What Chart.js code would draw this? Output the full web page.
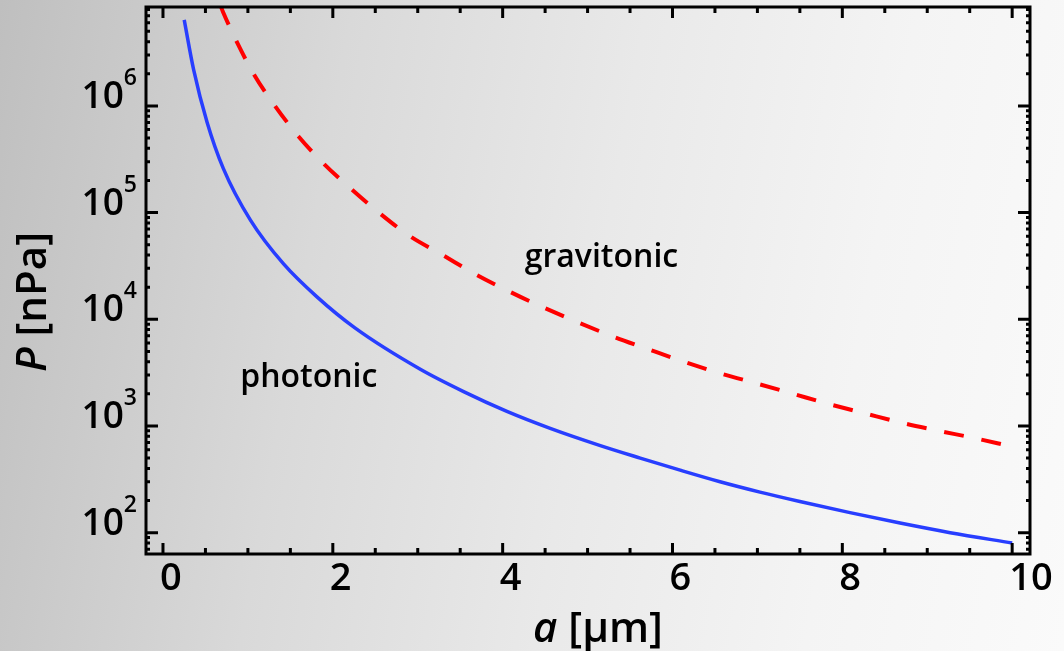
<!DOCTYPE html>
<html>
<head>
<meta charset="utf-8">
<script src="https://cdn.jsdelivr.net/npm/chart.js@4.4.0/dist/chart.umd.min.js"></script>
<style>
  html, body {
    margin: 0;
    padding: 0;
    width: 1064px;
    height: 651px;
    overflow: hidden;
    background: linear-gradient(100deg, #bfbfbf 0%, #d9d9d9 30%, #e9e9e9 55%, #f4f4f4 78%, #fafafa 100%);
  }
  canvas { display: block; }
</style>
</head>
<body>
<canvas id="chart" width="1064" height="651"></canvas>
<script>
// Photonic pressure (solid blue)
const photonicA = [0.25, 0.36, 0.52, 0.71, 1.03, 1.42, 1.81, 2.26, 3.03, 3.54, 4.05, 4.56, 5.15, 5.62, 6.09, 6.56, 7.03, 7.5, 8.09, 8.68, 9.27, 10.0];
const photonicP = [6.4e6, 2.2e6, 7.0e5, 2.6e5, 8.5e4, 3.3e4, 1.63e4, 8.3e3, 3.4e3, 2.1e3, 1.37e3, 950, 655, 500, 385, 300, 240, 196, 154, 123, 100, 80];

// Gravitonic pressure (dashed red)
const gravitonicA = [0.68, 0.707, 0.868, 1.075, 1.319, 1.594, 1.888, 2.223, 2.556, 2.909, 3.294, 3.675, 4.067, 4.479, 5.304, 5.716, 6.137, 6.56, 6.985, 7.405, 7.836, 8.27, 8.701, 9.13, 9.564, 9.956];
const gravitonicP = [8.6e6, 7.6e6, 4.0e6, 1.95e6, 1.0e6, 5.2e5, 2.9e5, 1.65e5, 9.8e4, 6.0e4, 4.0e4, 2.66e4, 1.84e4, 1.29e4, 6.87e3, 5.24e3, 4.0e3, 3.12e3, 2.51e3, 2.02e3, 1.61e3, 1.31e3, 1.07e3, 903, 767, 653];

// Axis ticks
const xMajorTicks = [0, 2, 4, 6, 8, 10];
const xMinorTicks = [0.5, 1, 1.5, 2.5, 3, 3.5, 4.5, 5, 5.5, 6.5, 7, 7.5, 8.5, 9, 9.5];
const yMajorExponents = [2, 3, 4, 5, 6];
const yMinorTicks = [];
for (let e = 1; e <= 6; e++) {
  for (let m = 2; m <= 9; m++) yMinorTicks.push(m * Math.pow(10, e));
}

// Curve labels (data coordinates)
const curveLabels = ['gravitonic', 'photonic'];
const curveLabelA = [4.26, 0.91];
const curveLabelP = [3.1e4, 2.33e3];

const toPoints = (xs, ys) => xs.map((x, i) => ({ x, y: ys[i] }));

const FONT = "'Open Sans', 'Noto Sans', sans-serif";
const W = 600;

// Frame, inward ticks, tick labels and axis titles
const framePlugin = {
  id: 'frame',
  afterDraw(chart) {
    const { ctx, chartArea: area, scales } = chart;
    const xs = scales.x;
    const ys = scales.y;

    ctx.save();
    ctx.strokeStyle = '#000';
    ctx.lineWidth = 3;
    ctx.lineCap = 'butt';

    // x ticks (bottom and top)
    const xTick = (v, len) => {
      const px = xs.getPixelForValue(v);
      ctx.beginPath();
      ctx.moveTo(px, area.bottom);
      ctx.lineTo(px, area.bottom - len);
      ctx.moveTo(px, area.top);
      ctx.lineTo(px, area.top + len);
      ctx.stroke();
    };
    xMajorTicks.forEach(v => xTick(v, 11));
    xMinorTicks.forEach(v => xTick(v, 6));

    // y ticks (left and right)
    const yTick = (v, len) => {
      const py = ys.getPixelForValue(v);
      if (py < area.top || py > area.bottom) return;
      ctx.beginPath();
      ctx.moveTo(area.left, py);
      ctx.lineTo(area.left + len, py);
      ctx.moveTo(area.right, py);
      ctx.lineTo(area.right - len, py);
      ctx.stroke();
    };
    yMajorExponents.forEach(e => yTick(Math.pow(10, e), 12));
    yMinorTicks.forEach(v => yTick(v, 4));

    // Frame
    ctx.strokeRect(area.left, area.top, area.right - area.left, area.bottom - area.top);

    ctx.fillStyle = '#000';

    // x tick labels
    ctx.font = `${W} 38px ${FONT}`;
    ctx.textAlign = 'left';
    ctx.textBaseline = 'alphabetic';
    xMajorTicks.forEach(v => {
      ctx.fillText(String(v), xs.getPixelForValue(v) - 3, 590);
    });

    // y tick labels: 10 with superscript exponent
    const labelRight = 137;
    yMajorExponents.forEach(e => {
      const py = ys.getPixelForValue(Math.pow(10, e));
      ctx.textAlign = 'right';
      ctx.font = `${W} 23px ${FONT}`;
      const supW = ctx.measureText(String(e)).width;
      ctx.fillText(String(e), labelRight, py + 2 - 23);
      ctx.font = `${W} 37px ${FONT}`;
      ctx.fillText('10', labelRight - supW, py + 2);
    });

    // Curve labels
    ctx.font = `${W} 32px ${FONT}`;
    ctx.textAlign = 'left';
    curveLabels.forEach((t, i) => {
      ctx.fillText(t, xs.getPixelForValue(curveLabelA[i]), ys.getPixelForValue(curveLabelP[i]));
    });

    // Axis titles: italic symbol followed by upright unit
    const titleWidths = (italicPart, rest) => {
      ctx.font = `italic ${W} 42px ${FONT}`;
      const w1 = ctx.measureText(italicPart).width;
      ctx.font = `${W} 42px ${FONT}`;
      const w2 = ctx.measureText(rest).width;
      return [w1, w2];
    };
    const drawTitle = (italicPart, rest, cx, baseline) => {
      const [w1, w2] = titleWidths(italicPart, rest);
      const start = cx - (w1 + w2) / 2;
      ctx.textAlign = 'left';
      ctx.font = `italic ${W} 42px ${FONT}`;
      ctx.fillText(italicPart, start, baseline);
      ctx.font = `${W} 42px ${FONT}`;
      ctx.fillText(rest, start + w1, baseline);
    };

    drawTitle('a', ' [μm]', 598, 642);

    ctx.translate(46, 302);
    ctx.rotate(-Math.PI / 2);
    drawTitle('P', ' [nPa]', 0, 0);

    ctx.restore();
  }
};

const ctx = document.getElementById('chart').getContext('2d');

new Chart(ctx, {
  type: 'scatter',
  data: {
    datasets: [
      {
        label: 'photonic',
        data: toPoints(photonicA, photonicP),
        showLine: true,
        borderColor: 'rgb(40, 62, 255)',
        borderWidth: 3.5,
        pointRadius: 0,
        cubicInterpolationMode: 'monotone'
      },
      {
        label: 'gravitonic',
        data: toPoints(gravitonicA, gravitonicP),
        showLine: true,
        borderColor: 'rgb(255, 0, 0)',
        borderWidth: 4,
        borderDash: [20, 18],
        pointRadius: 0,
        cubicInterpolationMode: 'monotone'
      }
    ]
  },
  options: {
    responsive: false,
    animation: false,
    devicePixelRatio: 1,
    layout: {
      padding: { left: 146, right: 34, top: 7, bottom: 97 }
    },
    plugins: {
      legend: { display: false },
      tooltip: { enabled: false }
    },
    scales: {
      x: {
        type: 'linear',
        display: false,
        min: -0.2,
        max: 10.21
      },
      y: {
        type: 'logarithmic',
        display: false,
        min: 63.1,
        max: 8.45e6
      }
    }
  },
  plugins: [framePlugin]
});
</script>
</body>
</html>
